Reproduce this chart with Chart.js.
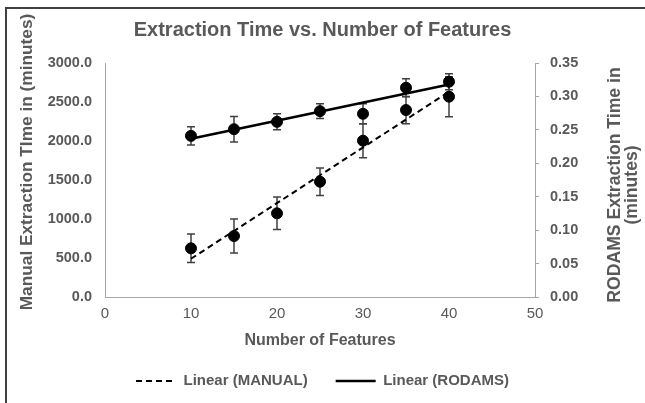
<!DOCTYPE html>
<html lang="en">
<head>
  <meta charset="UTF-8" />
  <title>Extraction Time vs. Number of Features</title>
  <script src="https://cdn.jsdelivr.net/npm/chart.js"></script>
  <style>
    body { margin: 0; background: #fff; overflow: hidden; }
    #frame { position: absolute; left: 5px; top: 7px; right: 0; bottom: 0; border-left: 2px solid #404040; border-top: 2px solid #404040; }
    #chart { position: absolute; left: 0; top: 0; }
  </style>
</head>
<body>
  <div id="frame"></div>
  <canvas id="chart" width="645" height="403"></canvas>

  <script>
    // data
    const features = [10, 15, 20, 25, 30, 35, 40];
    const manual = [624, 782, 1073, 1478, 2004, 2397, 2568];
    const manualErr = [183, 218, 209, 177, 218, 175, 256];
    const rodams = [0.241, 0.251, 0.262, 0.278, 0.274, 0.313, 0.322];
    const rodamsErr = [0.0135, 0.019, 0.012, 0.011, 0.015, 0.0135, 0.012];

    const xTicks = [0, 10, 20, 30, 40, 50];
    const leftTicks = [0, 500, 1000, 1500, 2000, 2500, 3000];
    const rightTicks = [0, 0.05, 0.1, 0.15, 0.2, 0.25, 0.3, 0.35];

    const grey = "#595959";
    const axisGrey = "#a6a6a6";
    const fam = "'Liberation Sans', Arial, sans-serif";
    Chart.defaults.font.family = fam;
    Chart.defaults.color = grey;

    // least squares trendline, like the spreadsheet's "Linear" trendline
    function trend(xs, ys) {
      const n = xs.length;
      const mx = xs.reduce((a, b) => a + b, 0) / n;
      const my = ys.reduce((a, b) => a + b, 0) / n;
      let sxy = 0, sxx = 0;
      xs.forEach((x, i) => { sxy += (x - mx) * (ys[i] - my); sxx += (x - mx) * (x - mx); });
      const m = sxy / sxx;
      const first = xs[0], last = xs[n - 1];
      return [{ x: first, y: my + m * (first - mx) }, { x: last, y: my + m * (last - mx) }];
    }

    const pts = (ys) => features.map((x, i) => ({ x: x, y: ys[i] }));

    // vertical error bars, drawn through the chart's scales
    const errorBars = {
      id: "errorBars",
      beforeDatasetsDraw(chart) {
        const ctx = chart.ctx;
        const xs = chart.scales.x;
        ctx.save();
        ctx.strokeStyle = "#404040";
        ctx.lineWidth = 1.5;
        chart.data.datasets.forEach(ds => {
          if (!ds.errors) return;
          const ys = chart.scales[ds.yAxisID];
          ds.data.forEach((p, i) => {
            const px = xs.getPixelForValue(p.x);
            const top = ys.getPixelForValue(p.y + ds.errors[i]);
            const bot = ys.getPixelForValue(p.y - ds.errors[i]);
            ctx.beginPath();
            ctx.moveTo(px, top); ctx.lineTo(px, bot);
            ctx.moveTo(px - 4, top); ctx.lineTo(px + 4, top);
            ctx.moveTo(px - 4, bot); ctx.lineTo(px + 4, bot);
            ctx.stroke();
          });
        });
        ctx.restore();
      }
    };

    // axis titles placed the way the spreadsheet does it
    const axisTitles = {
      id: "axisTitles",
      afterDraw(chart) {
        const ctx = chart.ctx;
        const a = chart.chartArea;
        ctx.save();
        ctx.fillStyle = grey;
        ctx.textAlign = "center";
        ctx.textBaseline = "middle";

        ctx.font = "bold 16px " + fam;
        ctx.fillText("Number of Features", (a.left + a.right) / 2, a.bottom + 44);

        ctx.font = "bold 17.3px " + fam;
        ctx.save();
        ctx.translate(27, a.top + 99);
        ctx.rotate(-Math.PI / 2);
        ctx.fillText("Manual Extraction TIme in (minutes)", 0, 0);
        ctx.restore();

        ctx.font = "bold 17.6px " + fam;
        ctx.save();
        ctx.translate(a.right + 80, a.top + 122);
        ctx.rotate(-Math.PI / 2);
        ctx.fillText("RODAMS Extraction Time in", 0, 0);
        ctx.fillText("(minutes)", 0, 17);
        ctx.restore();

        ctx.restore();
      }
    };

    // keep the dash of each trendline in its legend sample
    function legendLabels(chart) {
      const items = Chart.defaults.plugins.legend.labels.generateLabels(chart);
      return items.map(item => {
        const ds = chart.data.datasets[item.datasetIndex];
        item.lineDash = ds.borderDash || [];
        item.lineWidth = ds.borderWidth;
        item.strokeStyle = "#000";
        return item;
      });
    }

    new Chart(document.getElementById("chart"), {
      type: "scatter",
      data: {
        datasets: [
          {
            label: "MANUAL",
            data: pts(manual),
            errors: manualErr,
            yAxisID: "y",
            backgroundColor: "#000",
            borderColor: "#000",
            pointRadius: 5.5,
            showLine: false
          },
          {
            label: "RODAMS",
            data: pts(rodams),
            errors: rodamsErr,
            yAxisID: "y1",
            backgroundColor: "#000",
            borderColor: "#000",
            pointRadius: 5.5,
            showLine: false
          },
          {
            label: "Linear (MANUAL)",
            data: trend(features, manual),
            yAxisID: "y",
            showLine: true,
            borderColor: "#000",
            backgroundColor: "#000",
            borderWidth: 2,
            borderDash: [6, 4],
            pointRadius: 0
          },
          {
            label: "Linear (RODAMS)",
            data: trend(features, rodams),
            yAxisID: "y1",
            showLine: true,
            borderColor: "#000",
            backgroundColor: "#000",
            borderWidth: 2.5,
            pointRadius: 0
          }
        ]
      },
      options: {
        responsive: false,
        devicePixelRatio: 1,
        animation: false,
        layout: { padding: { top: 0, left: 0, right: 0, bottom: 4.5 } },
        plugins: {
          tooltip: { enabled: false },
          title: {
            display: true,
            text: "Extraction Time vs. Number of Features",
            color: grey,
            font: { size: 20, weight: "bold" },
            padding: { top: 18.5, bottom: 20.5 }
          },
          legend: {
            position: "bottom",
            labels: {
              generateLabels: legendLabels,
              filter: item => item.datasetIndex >= 2,
              usePointStyle: true,
              pointStyle: "line",
              pointStyleWidth: 40,
              padding: 28,
              color: grey,
              font: { size: 15, weight: "bold" }
            }
          }
        },
        scales: {
          x: {
            type: "linear",
            min: xTicks[0],
            max: xTicks[xTicks.length - 1],
            afterBuildTicks: s => { s.ticks = xTicks.map(v => ({ value: v })); },
            grid: { display: false, drawTicks: false },
            border: { display: true, color: axisGrey, width: 1 },
            ticks: { padding: 7.5, color: grey, font: { size: 15 } },
            afterFit: s => { s.height = 48.5; }
          },
          y: {
            position: "left",
            min: leftTicks[0],
            max: leftTicks[leftTicks.length - 1],
            afterBuildTicks: s => { s.ticks = leftTicks.map(v => ({ value: v })); },
            grid: { display: false, drawTicks: false },
            border: { display: true, color: axisGrey, width: 1 },
            ticks: { padding: 13, color: grey, font: { size: 14.5, weight: "bold" }, callback: v => v.toFixed(1) },
            afterFit: s => { s.width = 105; }
          },
          y1: {
            position: "right",
            min: rightTicks[0],
            max: rightTicks[rightTicks.length - 1],
            afterBuildTicks: s => { s.ticks = rightTicks.map(v => ({ value: v })); },
            grid: { drawOnChartArea: false, drawTicks: true, tickLength: 4, color: axisGrey },
            border: { display: true, color: axisGrey, width: 1 },
            ticks: { padding: 11, color: grey, font: { size: 14.5, weight: "bold" }, callback: v => v.toFixed(2) },
            afterFit: s => { s.width = 110; }
          }
        }
      },
      plugins: [errorBars, axisTitles]
    });
  </script>
</body>
</html>
